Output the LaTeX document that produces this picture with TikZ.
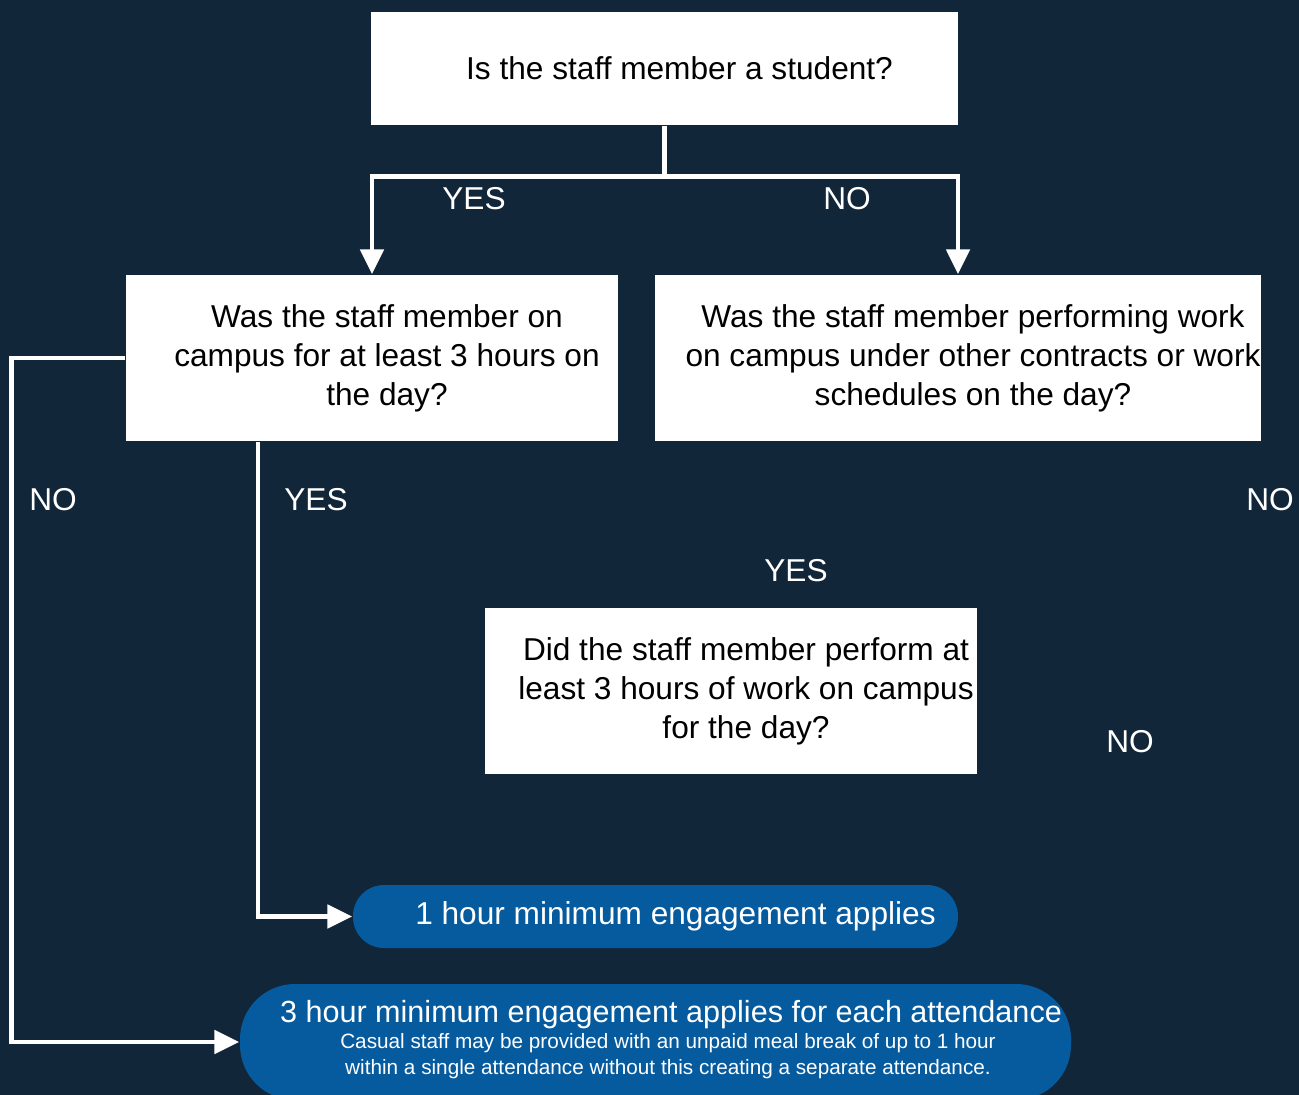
\documentclass[tikz,border=0pt]{standalone}
\usepackage{fontspec}
\setmainfont{Liberation Sans}
\usetikzlibrary{arrows.meta}
\definecolor{navy}{HTML}{12263A}
\definecolor{pillblue}{HTML}{065A9E}
\newcommand{\sh}{\hspace*{0.3cm}}

\begin{document}
\begin{tikzpicture}[
    flow/.style={draw=white,line width=1.4pt,-{Triangle[width=0.23cm,length=0.25cm]}},
    answer/.style={text=white,font=\fontsize{9}{11.1}\selectfont,inner sep=0pt}
  ]

  \clip (0,0) rectangle (12.99,-10.95);
  \fill[navy] (0,0) rectangle (12.99,-10.95);

  \begin{scope}[every node/.style={fill=white,text=black,align=center,inner sep=0pt,
      font=\fontsize{9}{11.1}\selectfont}]
    \node[minimum width=5.87cm,minimum height=1.13cm] (q1) at (6.645,-0.685)
      {\sh Is the staff member a student?};
    \node[minimum width=4.92cm,minimum height=1.66cm] (q2) at (3.72,-3.58)
      {\sh Was the staff member on\\ \sh campus for at least 3 hours on\\ \sh the day?};
    \node[minimum width=6.06cm,minimum height=1.66cm] (q3) at (9.58,-3.58)
      {\sh Was the staff member performing work\\ \sh on campus under other contracts or work\\ \sh schedules on the day?};
    \node[minimum width=4.92cm,minimum height=1.66cm] (q4) at (7.31,-6.91)
      {\sh Did the staff member perform at\\ \sh least 3 hours of work on campus\\ \sh for the day?};
  \end{scope}

  \begin{scope}[every node/.style={fill=pillblue,text=white,inner sep=0pt,
      font=\fontsize{9}{11.1}\selectfont}]
    \node[minimum width=6.05cm,minimum height=0.63cm,rounded corners=0.31cm] (r1) at (6.555,-9.165)
      {\hspace*{0.4cm}1 hour minimum engagement applies};
    \node[minimum width=8.31cm,minimum height=1.16cm,rounded corners=0.55cm] (r2) at (6.555,-10.42) {};
  \end{scope}

  \node[answer,font=\fontsize{8.7}{10}\selectfont] (r2a) at (6.71,-10.15)
    {3 hour minimum engagement applies for each attendance};
  \node[answer,align=center,font=\fontsize{5.9}{7.4}\selectfont] (r2b) at (6.68,-10.56)
    {Casual staff may be provided with an unpaid meal break of up to 1 hour\\
     within a single attendance without this creating a separate attendance.};

  % first question
  \coordinate (split) at ([yshift=-0.51cm]q1.south);
  \draw[flow] (q1.south) -- (split) -| (q2.north);
  \draw[flow] (split) -| (q3.north);

  % second question
  \draw[flow] (q2.west) -- ++(-1.14,0) |- (r2.west);
  \draw[flow] ([xshift=-1.14cm]q2.south) |- (r1.west);

  \node[answer] (yes1) at (4.74,-1.99) {YES};
  \node[answer] (no1)  at (8.47,-1.99) {NO};
  \node[answer] (no2)  at (0.53,-5.00) {NO};
  \node[answer] (yes2) at (3.16,-5.00) {YES};
  \node[answer] (yes3) at (7.96,-5.71) {YES};
  \node[answer] (no3)  at (12.70,-5.00) {NO};
  \node[answer] (no4)  at (11.30,-7.42) {NO};

\end{tikzpicture}
\end{document}
